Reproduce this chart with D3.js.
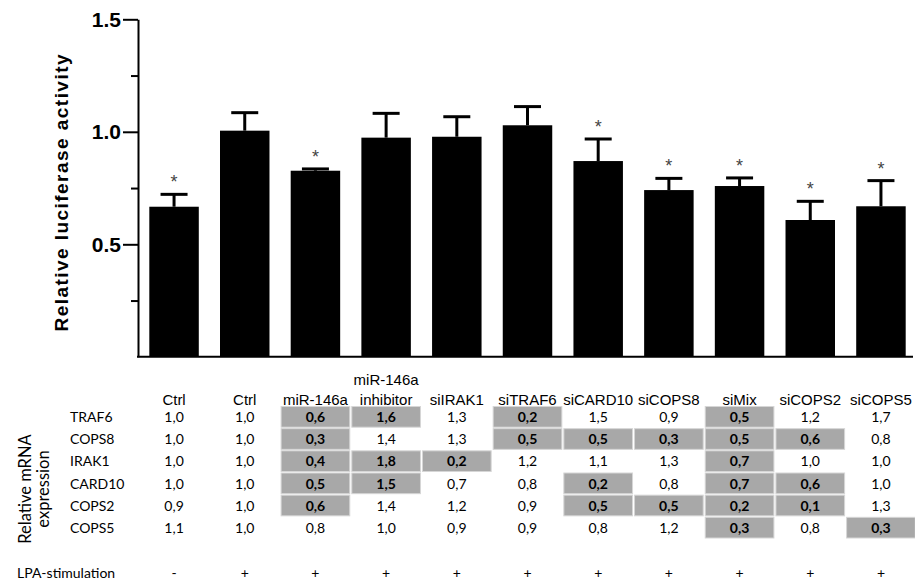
<!DOCTYPE html>
<html>
<head>
<meta charset="utf-8">
<script src="https://cdn.jsdelivr.net/npm/d3@7"></script>
<style>
  body { margin: 0; background: #fff; }
  svg { display: block; }
</style>
</head>
<body>
<svg width="915" height="581"></svg>
<script>
// bar groups (header lines for the table)
var headers = [["Ctrl"], ["Ctrl"], ["miR-146a"], ["miR-146a", "inhibitor"], ["siIRAK1"], ["siTRAF6"],
               ["siCARD10"], ["siCOPS8"], ["siMix"], ["siCOPS2"], ["siCOPS5"]];
var means = [0.667, 1.005, 0.827, 0.974, 0.978, 1.029, 0.870, 0.741, 0.759, 0.608, 0.669];
var sem = [0.055, 0.080, 0.008, 0.108, 0.089, 0.083, 0.098, 0.052, 0.036, 0.083, 0.114];
var significant = [true, false, true, false, false, false, true, true, true, true, true];
var yTicks = [0.5, 1.0, 1.5];
var yMinorTicks = [0.25, 0.75, 1.25];

// relative mRNA expression table
var genes = ["TRAF6", "COPS8", "IRAK1", "CARD10", "COPS2", "COPS5"];
var expr = [
  [1.0, 1.0, 0.6, 1.6, 1.3, 0.2, 1.5, 0.9, 0.5, 1.2, 1.7],
  [1.0, 1.0, 0.3, 1.4, 1.3, 0.5, 0.5, 0.3, 0.5, 0.6, 0.8],
  [1.0, 1.0, 0.4, 1.8, 0.2, 1.2, 1.1, 1.3, 0.7, 1.0, 1.0],
  [1.0, 1.0, 0.5, 1.5, 0.7, 0.8, 0.2, 0.8, 0.7, 0.6, 1.0],
  [0.9, 1.0, 0.6, 1.4, 1.2, 0.9, 0.5, 0.5, 0.2, 0.1, 1.3],
  [1.1, 1.0, 0.8, 1.0, 0.9, 0.9, 0.8, 1.2, 0.3, 0.8, 0.3]
];
// columns highlighted (grey, bold) per gene row
var highlighted = [
  [2, 3, 5, 8],
  [2, 5, 6, 7, 8, 9],
  [2, 3, 4, 8],
  [2, 3, 6, 8, 9],
  [2, 6, 7, 8, 9],
  [8, 10]
];
var lpa = ["-", "+", "+", "+", "+", "+", "+", "+", "+", "+", "+"];

var svg = d3.select("svg");
var arial = "Arial, 'Liberation Sans', sans-serif";
var calib = "Lato, 'Open Sans', sans-serif";

var x = d3.scaleBand().domain(d3.range(means.length))
    .range([138, 917]).paddingInner(0.3).paddingOuter(0.16);
var y = d3.scaleLinear().domain([0, 1.5]).range([356.8, 19.3]);
var gap = (x.step() - x.bandwidth()) / 2;

// bars
svg.append("g").selectAll("rect")
  .data(means)
  .enter().append("rect")
    .attr("x", function(d, i) { return x(i); })
    .attr("y", function(d) { return y(d); })
    .attr("width", x.bandwidth())
    .attr("height", function(d) { return y(0) - y(d); })
    .attr("fill", "#000");

// error bars
var err = svg.append("g").attr("stroke", "#000").attr("stroke-width", 3);
means.forEach(function(m, i) {
  var cx = x(i) + x.bandwidth() / 2;
  err.append("line").attr("x1", cx).attr("x2", cx).attr("y1", y(m)).attr("y2", y(m + sem[i]));
  err.append("line").attr("x1", cx - 13.5).attr("x2", cx + 13.5)
    .attr("y1", y(m + sem[i])).attr("y2", y(m + sem[i]));
  if (significant[i]) {
    svg.append("text")
      .attr("x", cx).attr("y", y(m + sem[i]) - 6)
      .attr("text-anchor", "middle")
      .attr("font-family", arial).attr("font-size", 18)
      .attr("fill", "#444")
      .text("*");
  }
});

// y axis
var yAxis = svg.append("g")
  .attr("transform", "translate(138,0)")
  .call(d3.axisLeft(y).tickValues(yTicks).tickFormat(d3.format(".1f"))
    .tickSize(15).tickSizeOuter(0).tickPadding(2));
yAxis.select(".domain").attr("stroke-width", 2);
yAxis.selectAll(".tick line").attr("stroke-width", 2);
yAxis.selectAll(".tick text")
  .attr("font-family", arial).attr("font-size", 21).attr("font-weight", "bold")
  .attr("fill", "#000");
svg.append("g")
  .attr("transform", "translate(138,0)")
  .call(d3.axisLeft(y).tickValues(yMinorTicks).tickFormat("").tickSize(7).tickSizeOuter(0))
  .call(function(g) { g.select(".domain").remove(); })
  .selectAll(".tick line").attr("stroke-width", 2);

// x baseline
svg.append("line")
  .attr("x1", 137).attr("x2", 913)
  .attr("y1", y(0)).attr("y2", y(0))
  .attr("stroke", "#000").attr("stroke-width", 2);

svg.append("text")
  .attr("transform", "translate(68,193) rotate(-90)")
  .attr("text-anchor", "middle")
  .attr("font-family", arial).attr("font-size", 19).attr("font-weight", "bold")
  .attr("textLength", 277).attr("lengthAdjust", "spacing")
  .text("Relative luciferase activity");

// table headers
headers.forEach(function(lines, i) {
  var cx = x(i) + x.bandwidth() / 2;
  lines.forEach(function(t, j) {
    svg.append("text")
      .attr("x", cx).attr("y", 404.5 - (lines.length - 1 - j) * 20)
      .attr("text-anchor", "middle")
      .attr("font-family", arial).attr("font-size", 15)
      .text(t);
  });
});

var row = d3.scaleBand().domain(genes).range([406, 539]);
var table = svg.append("g");

genes.forEach(function(g, r) {
  var ry = row(g);
  table.append("text")
    .attr("x", 70).attr("y", ry + row.bandwidth() / 2 + 5)
    .attr("font-family", calib).attr("font-size", 14)
    .text(g);
  expr[r].forEach(function(v, i) {
    var hi = highlighted[r].indexOf(i) >= 0;
    if (hi) {
      table.append("rect")
        .attr("x", x(i) - gap + 1).attr("y", ry + 0.5)
        .attr("width", x.step() - 2).attr("height", row.bandwidth() - 1.5)
        .attr("fill", "#a8a8a8").attr("stroke", "#d6d6d6").attr("stroke-width", 1);
    }
    table.append("text")
      .attr("x", x(i) + x.bandwidth() / 2).attr("y", ry + row.bandwidth() / 2 + 5)
      .attr("text-anchor", "middle")
      .attr("font-family", calib).attr("font-size", 14)
      .attr("font-weight", hi ? "bold" : "normal")
      .text(d3.format(".1f")(v).replace(".", ","));
  });
});

// side label
svg.append("text")
  .attr("transform", "translate(0,489) rotate(-90)")
  .attr("text-anchor", "middle")
  .attr("font-family", calib).attr("font-size", 16.5)
  .call(function(t) {
    t.append("tspan").attr("x", 0).attr("y", 31).text("Relative mRNA");
    t.append("tspan").attr("x", 0).attr("y", 49).text("expression");
  });

// LPA row
svg.append("text")
  .attr("x", 17).attr("y", 578)
  .attr("font-family", calib).attr("font-size", 14)
  .text("LPA-stimulation");
lpa.forEach(function(s, i) {
  svg.append("text")
    .attr("x", x(i) + x.bandwidth() / 2).attr("y", 578)
    .attr("text-anchor", "middle")
    .attr("font-family", calib).attr("font-size", 14)
    .text(s);
});
</script>
</body>
</html>
